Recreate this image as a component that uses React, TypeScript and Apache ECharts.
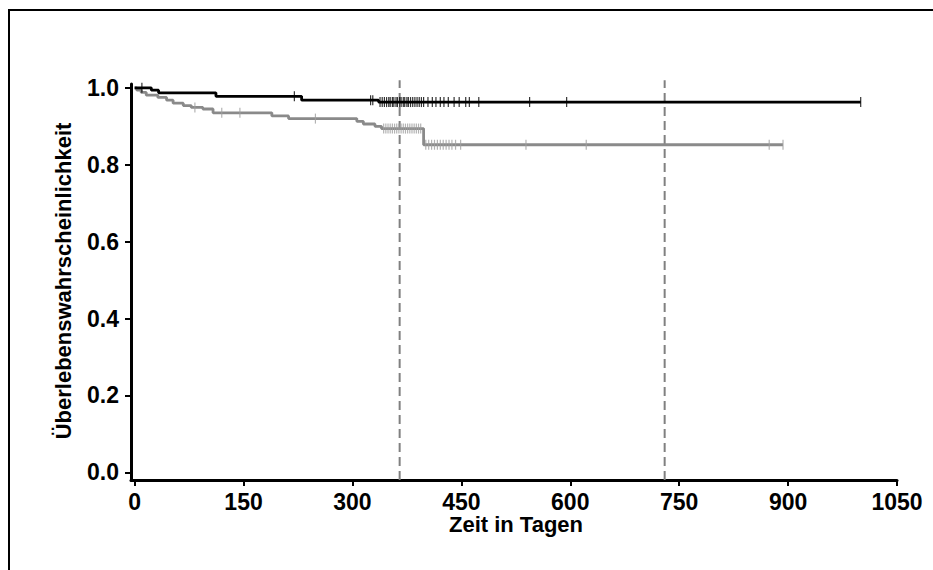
import React, { useEffect, useRef } from "react";
import * as echarts from "echarts";

// Kaplan-Meier step points [day, survival]
const blackSteps: [number, number][] = [
  [0, 1.0], [23, 0.994], [33, 0.987], [112, 0.978], [230, 0.968], [336, 0.963], [1000, 0.963],
];
const graySteps: [number, number][] = [
  [0, 1.0], [3, 0.994], [9, 0.988], [16, 0.981], [32, 0.975], [44, 0.968], [53, 0.96],
  [67, 0.954], [78, 0.949], [94, 0.945], [108, 0.935], [189, 0.927], [212, 0.92],
  [306, 0.913], [315, 0.906], [331, 0.9], [340, 0.894], [398, 0.852], [893, 0.852],
];
// censored observations (days)
const blackCensored: number[] = [
  10, 220, 325, 328, 338, 341, 344, 347, 350, 352, 355, 357, 360, 362, 365, 367, 370, 372,
  375, 377, 380, 383, 386, 389, 392, 395, 398, 404, 410, 415, 421, 426, 432, 440, 447,
  456, 461, 474, 544, 595, 1000,
];
const grayCensored: number[] = [
  83, 120, 145, 249, 343, 346, 349, 352, 355, 358, 361, 364, 367, 370, 373, 376, 379, 382,
  385, 388, 391, 394, 401, 405, 409, 413, 417, 421, 425, 429, 433, 437, 442, 449, 539, 622,
  874, 893,
];
const referenceDays: number[] = [365, 730];
const xTicks: number[] = [0, 150, 300, 450, 600, 750, 900, 1050];
const yTicks: number[] = [0, 0.2, 0.4, 0.6, 0.8, 1.0];
const xTitle = "Zeit in Tagen";
const yTitle = "Überlebenswahrscheinlichkeit";

function survivalAt(steps: [number, number][], t: number): number {
  let s = steps[0][1];
  for (const [tt, v] of steps) if (tt <= t) s = v;
  return s;
}

const FONT = "Liberation Sans, Arial, sans-serif";
const FS_TICK = 23;
const FS_TITLE = 22;

export default function App() {
  const ref = useRef<HTMLDivElement>(null);
  useEffect(() => {
    if (!ref.current) return;
    const chart = echarts.init(ref.current, null, { renderer: "svg" });
    const axisCommon = {
      axisLine: { show: true, onZero: false, lineStyle: { color: "#000", width: 3 } },
      axisTick: { show: true, length: 6, lineStyle: { color: "#000", width: 2 } },
      splitLine: { show: false },
    };
    chart.setOption({
      animation: false,
      backgroundColor: "#fff",
      grid: { left: 131, top: 84, width: 766, height: 396, containLabel: false },
      xAxis: {
        type: "value",
        min: -5,
        max: 1050,
        ...axisCommon,
        axisTick: { ...axisCommon.axisTick, customValues: xTicks },
        axisLabel: {
          customValues: xTicks,
          margin: 10,
          color: "#000",
          fontFamily: FONT,
          fontWeight: "bold",
          fontSize: FS_TICK,
          formatter: (v: number) => String(v),
        },
      },
      yAxis: {
        type: "value",
        min: -0.02,
        max: 1.01,
        ...axisCommon,
        axisTick: { ...axisCommon.axisTick, customValues: yTicks },
        axisLabel: {
          customValues: yTicks,
          margin: 12,
          color: "#000",
          fontFamily: FONT,
          fontWeight: "bold",
          fontSize: FS_TICK,
          formatter: (v: number) => v.toFixed(1),
        },
      },
      graphic: [
        {
          type: "rect",
          shape: { x: 9, y: 10, width: 1200, height: 800 },
          style: { fill: "none", stroke: "#000", lineWidth: 2 },
          silent: true,
        },
        {
          type: "text",
          x: 516,
          y: 524,
          style: {
            text: xTitle,
            fontFamily: FONT,
            fontWeight: "bold",
            fontSize: FS_TITLE,
            fill: "#000",
            align: "center",
            verticalAlign: "middle",
          },
        },
        {
          type: "text",
          x: 63,
          y: 281,
          rotation: Math.PI / 2,
          style: {
            text: yTitle,
            fontFamily: FONT,
            fontWeight: "bold",
            fontSize: FS_TITLE,
            fill: "#000",
            align: "center",
            verticalAlign: "middle",
          },
        },
      ],
      series: [
        ...referenceDays.map((d) => ({
          type: "line",
          data: [[d, -0.02], [d, 1.02]],
          symbol: "none",
          clip: false,
          silent: true,
          lineStyle: { color: "#808080", width: 2, type: [9, 5] },
          z: 1,
        })),
        {
          type: "line",
          step: "end",
          data: graySteps,
          symbol: "none",
          lineStyle: { color: "#8a8a8a", width: 2.8 },
          z: 2,
        },
        {
          type: "scatter",
          data: grayCensored.map((t) => [t, survivalAt(graySteps, t)]),
          symbol: "rect",
          symbolSize: [1.2, 10],
          itemStyle: { color: "#a0a0a0" },
          z: 3,
        },
        {
          type: "line",
          step: "end",
          data: blackSteps,
          symbol: "none",
          lineStyle: { color: "#000", width: 2.8 },
          z: 4,
        },
        {
          type: "scatter",
          data: blackCensored.map((t) => [t, survivalAt(blackSteps, t)]),
          symbol: "rect",
          symbolSize: [1.2, 10],
          itemStyle: { color: "#000" },
          z: 5,
        },
      ],
    });
    return () => chart.dispose();
  }, []);
  return (
    <div
      ref={ref}
      style={{ position: "fixed", left: 0, top: 0, width: 933, height: 570, background: "#fff" }}
    />
  );
}
